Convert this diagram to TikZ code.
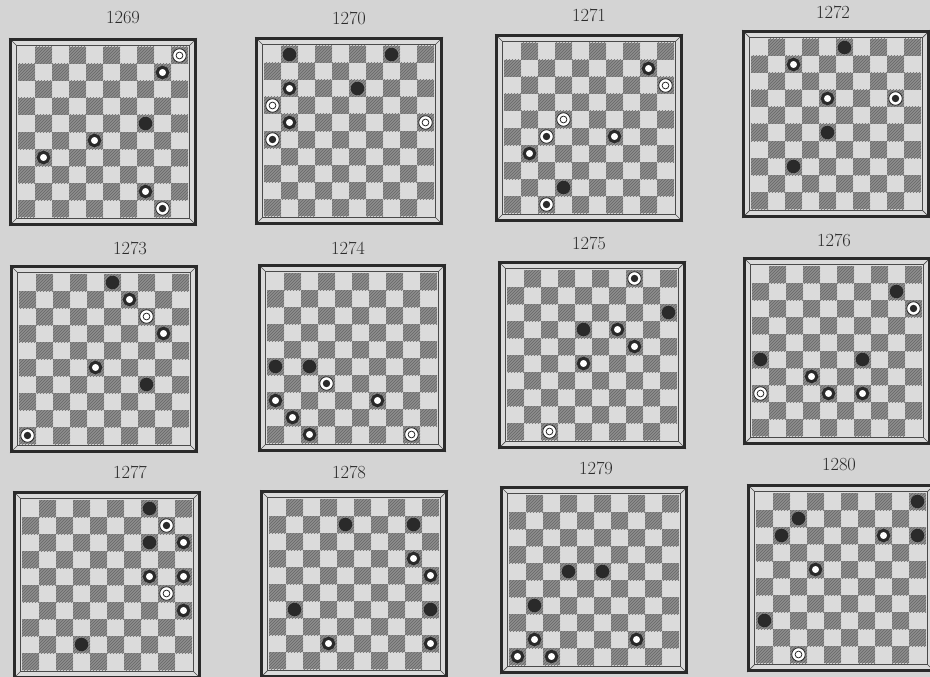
\documentclass[tikz,border=0pt]{standalone}
\usetikzlibrary{patterns}
\definecolor{paper}{HTML}{D4D4D4}
\definecolor{lightsq}{HTML}{DBDBDB}
\definecolor{darksqc}{HTML}{8E8E8E}
\definecolor{hatch}{HTML}{666666}
\definecolor{ink}{HTML}{2A2A2A}
\tikzset{
  darksq/.style={fill=darksqc, postaction={pattern=north east lines, pattern color=hatch}},
  wman/.style={circle, draw=ink, line width=3pt, fill=white, minimum size=10.5pt, inner sep=0pt},
  bman/.style={circle, fill=ink, minimum size=13.5pt, inner sep=0pt},
  wking/.style={circle, draw=ink, line width=0.8pt, fill=white, minimum size=13.5pt, inner sep=0pt,
    path picture={\draw[ink, line width=0.8pt] (path picture bounding box.center) circle (3.4);}},
  bking/.style={circle, draw=ink, line width=0.8pt, fill=white, minimum size=13.5pt, inner sep=0pt,
    path picture={\fill[ink] (path picture bounding box.center) circle (3.7);}},
  numlabel/.style={font=\fontsize{18.5}{22}\selectfont, text=ink, inner sep=0pt},
  outerframe/.style={draw=ink, line width=3.2pt},
  innerframe/.style={draw=ink!85, line width=0.7pt},
}
\newcommand{\drawboard}[6]{%
  \node[numlabel] (lab#3) at (#4,#5) {#3};
  \begin{scope}[shift={(#1,#2)}]
    \fill[lightsq] (0,0) rectangle (188,188);
    \foreach \py in {0,...,9}{
      \foreach \pk in {0,...,4}{
        \pgfmathtruncatemacro{\px}{2*\pk+1-mod(\py,2)}
        \fill[darksq] ({9+17*\px},{9+17*\py}) rectangle ++(17,17);
      }
    }
    \draw[innerframe] (7.6,7.6) rectangle (180.4,180.4);
    \draw[innerframe] (0,0)--(7.6,7.6) (188,0)--(180.4,7.6) (0,188)--(7.6,180.4) (188,188)--(180.4,180.4);
    \draw[outerframe] (1.6,1.6) rectangle (186.4,186.4);
    \foreach \px/\py/\pk in {#6}{
      \node[\pk] (p#3-\px-\py) at ({17.5+17*\px},{17.5+17*\py}) {};
    }
  \end{scope}
}
\begin{document}
\begin{tikzpicture}[x=1pt,y=-1pt]
\useasboundingbox (0,0) rectangle (930,677);
\clip (0,0) rectangle (930,677);
\fill[paper] (0,0) rectangle (930,677);
\drawboard{9}{38}{1269}{123}{18}{9/0/wking, 8/1/wman, 7/4/bman, 4/5/wman, 1/6/wman, 7/8/wman, 8/9/bking}
\drawboard{255}{37}{1270}{349}{18}{1/0/bman, 7/0/bman, 1/2/wman, 5/2/bman, 0/3/wking, 1/4/wman, 9/4/wking, 0/5/bking}
\drawboard{495}{34}{1271}{589}{15}{8/1/wman, 9/2/wking, 3/4/wking, 2/5/bking, 6/5/wman, 1/6/wman, 3/8/bman, 2/9/bking}
\drawboard{742}{30}{1272}{833}{12}{5/0/bman, 2/1/wman, 4/3/wman, 8/3/bking, 4/5/bman, 2/7/bman}
\drawboard{10}{265}{1273}{130}{248}{5/0/bman, 6/1/wman, 7/2/wking, 8/3/wman, 4/5/wman, 7/6/bman, 0/9/bking}
\drawboard{258}{264}{1274}{348}{248}{0/5/bman, 2/5/bman, 3/6/bking, 0/7/wman, 6/7/wman, 1/8/wman, 2/9/wman, 8/9/wking}
\drawboard{498}{261}{1275}{589}{243}{7/0/bking, 9/2/bman, 4/3/bman, 6/3/wman, 7/4/wman, 4/5/wman, 2/9/wking}
\drawboard{743}{257}{1276}{834}{240}{8/1/bman, 9/2/bking, 0/5/bman, 6/5/bman, 3/6/wman, 0/7/wking, 4/7/wman, 6/7/wman}
\drawboard{13}{491}{1277}{130}{472}{7/0/bman, 8/1/bking, 7/2/bman, 9/2/wman, 7/4/wman, 9/4/wman, 8/5/wking, 9/6/wman, 3/8/bman}
\drawboard{260}{490}{1278}{349}{472}{4/1/bman, 8/1/bman, 8/3/wman, 9/4/wman, 1/6/bman, 9/6/bman, 3/8/wman, 9/8/wman}
\drawboard{500}{486}{1279}{596}{468}{3/4/bman, 5/4/bman, 1/6/bman, 1/8/wman, 7/8/wman, 0/9/wman, 2/9/wman}
\drawboard{747}{484}{1280}{839}{465}{9/0/bman, 2/1/bman, 1/2/bman, 7/2/wman, 9/2/bman, 3/4/wman, 0/7/bman, 2/9/wking}
\end{tikzpicture}
\end{document}
